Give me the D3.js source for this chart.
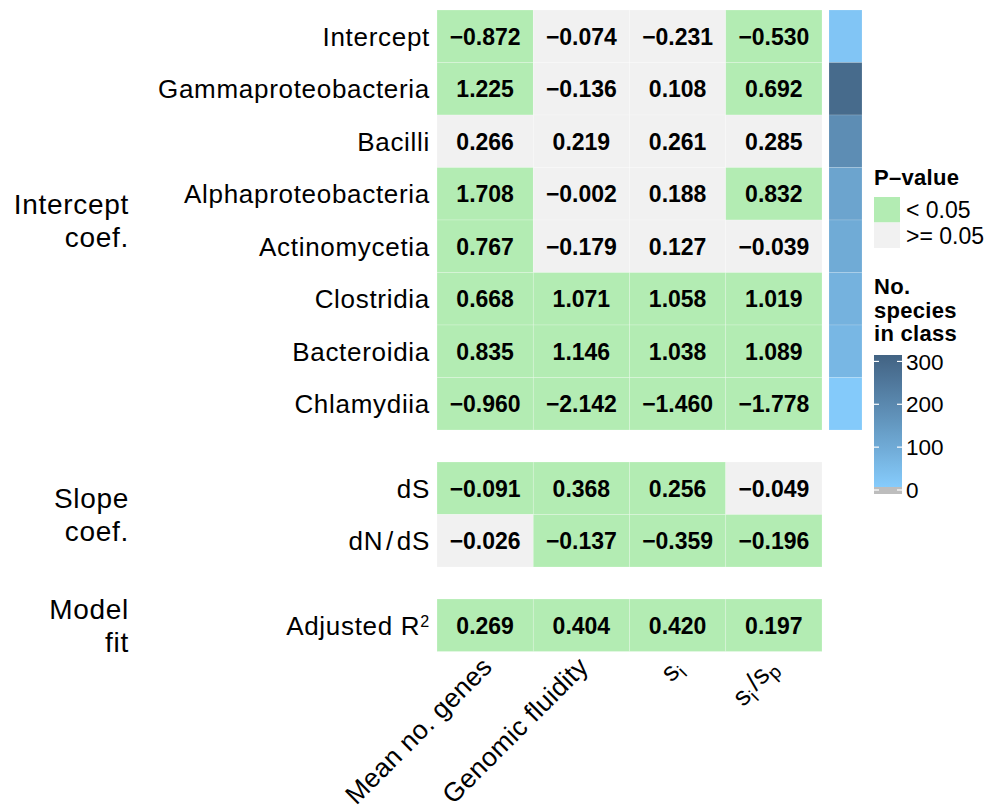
<!DOCTYPE html>
<html>
<head>
<meta charset="utf-8">
<script src="https://cdn.jsdelivr.net/npm/d3@7"></script>
<style>
  body { margin: 0; background: #fff; }
  text { font-family: "Liberation Sans", Arial, Helvetica, sans-serif; fill: #000; }
</style>
</head>
<body>
<svg id="chart" width="987" height="809"></svg>
<script>
// ---- data -------------------------------------------------------------
const responses = ["Mean no. genes", "Genomic fluidity", "s_i", "s_i/s_p"];

const interceptTerms = ["Intercept", "Gammaproteobacteria", "Bacilli", "Alphaproteobacteria",
                        "Actinomycetia", "Clostridia", "Bacteroidia", "Chlamydiia"];
const interceptCoef = [
  [-0.872, -0.074, -0.231, -0.530],
  [ 1.225, -0.136,  0.108,  0.692],
  [ 0.266,  0.219,  0.261,  0.285],
  [ 1.708, -0.002,  0.188,  0.832],
  [ 0.767, -0.179,  0.127, -0.039],
  [ 0.668,  1.071,  1.058,  1.019],
  [ 0.835,  1.146,  1.038,  1.089],
  [-0.960, -2.142, -1.460, -1.778]
];
const interceptSig = [
  [1, 0, 0, 1],
  [1, 0, 0, 1],
  [0, 0, 0, 0],
  [1, 0, 0, 1],
  [1, 0, 0, 0],
  [1, 1, 1, 1],
  [1, 1, 1, 1],
  [1, 1, 1, 1]
];

const slopeTerms = ["dS", "dN/dS"];
const slopeCoef = [
  [-0.091, 0.368, 0.256, -0.049],
  [-0.026, -0.137, -0.359, -0.196]
];
const slopeSig = [
  [1, 1, 1, 0],
  [0, 1, 1, 1]
];

const fitTerms = ["Adjusted R2"];
const fitValues = [[0.269, 0.404, 0.420, 0.197]];
const fitSig = [[1, 1, 1, 1]];

// number of species per class (side bar)
const speciesInClass = [25, 290, 185, 120, 100, 80, 65, 12];
const speciesTicks = [0, 100, 200, 300];
const speciesMax = 315;

const pLevels = ["< 0.05", ">= 0.05"];
const pColors = ["#b3ecb3", "#f1f1f1"];

const panels = [
  { label: ["Intercept", "coef."], terms: interceptTerms, values: interceptCoef, sig: interceptSig, top: 10 },
  { label: ["Slope", "coef."],     terms: slopeTerms,     values: slopeCoef,     sig: slopeSig,     top: 462 },
  { label: ["Model", "fit"],       terms: fitTerms,       values: fitValues,     sig: fitSig,       top: 599 }
];

// ---- layout -----------------------------------------------------------
const svg = d3.select("#chart");
const rowH = 52.5;
const x = d3.scaleBand().domain(responses).range([437, 822]);
const fmt = d3.format(".3f");
const speciesColor = d3.scaleLinear().domain([0, speciesMax])
  .range(["#87CEFF", "#426383"]).interpolate(d3.interpolateLab);

// row label with small markup for dN/dS and R^2
function rowLabel(sel, term) {
  if (term === "dN/dS") {
    sel.append("tspan").text("dN\u200A/\u200AdS");
  } else if (term === "Adjusted R2") {
    sel.append("tspan").text("Adjusted R");
    sel.append("tspan").attr("dy", "-0.5em").attr("font-size", "0.62em").text("2");
  } else {
    sel.append("tspan").text(term);
  }
}

// column label with subscripts
function colLabel(sel, name) {
  const sub = (ch) => {
    sel.append("tspan").attr("dy", "0.3em").attr("font-size", "0.72em").text(ch);
    sel.append("tspan").attr("dy", "-0.3em").text("\u200A");
  };
  if (name === "s_i") {
    sel.append("tspan").text("s"); sub("i");
  } else if (name === "s_i/s_p") {
    sel.append("tspan").text("s"); sub("i");
    sel.append("tspan").text("/s"); sub("p");
  } else {
    sel.append("tspan").text(name);
  }
}

panels.forEach((p) => {
  const y = d3.scaleBand().domain(p.terms).range([p.top, p.top + p.terms.length * rowH]);
  const g = svg.append("g");

  const cells = [];
  p.terms.forEach((t, i) => responses.forEach((r, j) => {
    cells.push({ term: t, resp: r, value: p.values[i][j], sig: p.sig[i][j] });
  }));

  g.selectAll("rect.cell").data(cells).join("rect")
    .attr("class", "cell")
    .attr("x", d => x(d.resp))
    .attr("y", d => y(d.term))
    .attr("width", x.bandwidth())
    .attr("height", y.bandwidth())
    .attr("fill", d => d.sig ? pColors[0] : pColors[1])
    .attr("stroke", "#ffffff").attr("stroke-opacity", 0.35).attr("stroke-width", 0.6);

  g.selectAll("text.val").data(cells).join("text")
    .attr("class", "val")
    .attr("x", d => x(d.resp) + x.bandwidth() / 2)
    .attr("y", d => y(d.term) + y.bandwidth() / 2)
    .attr("dy", "0.36em")
    .attr("text-anchor", "middle")
    .attr("font-weight", "bold")
    .attr("font-size", 23)
    .text(d => fmt(d.value));

  // row labels
  p.terms.forEach((t) => {
    const tx = g.append("text")
      .attr("x", 430)
      .attr("y", y(t) + y.bandwidth() / 2)
      .attr("dy", "0.36em")
      .attr("text-anchor", "end")
      .attr("font-size", 26)
      .attr("letter-spacing", 0.7);
    rowLabel(tx, t);
  });

  // panel strip label on the left
  const mid = p.top + p.terms.length * rowH / 2;
  const lh = 33;
  p.label.forEach((line, k) => {
    g.append("text")
      .attr("x", 129)
      .attr("y", mid + (k - (p.label.length - 1) / 2) * lh)
      .attr("dy", "0.36em")
      .attr("text-anchor", "end")
      .attr("font-size", 28)
      .attr("letter-spacing", 0.7)
      .text(line);
  });

  // side bar with class sizes (first panel only)
  if (p.terms === interceptTerms) {
    g.selectAll("rect.side").data(p.terms).join("rect")
      .attr("class", "side")
      .attr("x", 829).attr("width", 33)
      .attr("y", d => y(d)).attr("height", y.bandwidth())
      .attr("fill", (d, i) => speciesColor(speciesInClass[i]))
      .attr("stroke", "#ffffff").attr("stroke-opacity", 0.25).attr("stroke-width", 0.6);
  }
});

// ---- column labels (rotated 45°) ---------------------------------------
responses.forEach((r) => {
  const cx = x(r) + x.bandwidth() / 2;
  const t = svg.append("text")
    .attr("transform", `translate(${cx - 5},655) rotate(-45)`)
    .attr("text-anchor", "end")
    .attr("dy", "0.72em")
    .attr("font-size", 26.5)
    .attr("letter-spacing", 0.3);
  colLabel(t, r);
});

// ---- legend: P-value ---------------------------------------------------
const lg = svg.append("g");
lg.append("text").attr("x", 874).attr("y", 185)
  .attr("font-weight", "bold").attr("font-size", 22).attr("letter-spacing", 0.3)
  .text("P\u2013value");
pLevels.forEach((lv, i) => {
  lg.append("rect").attr("x", 874).attr("y", 197 + i * 25.5)
    .attr("width", 26).attr("height", 25.5).attr("fill", pColors[i]);
  lg.append("text").attr("x", 906).attr("y", 197 + i * 25.5 + 12.75)
    .attr("dy", "0.36em").attr("font-size", 23).text(lv);
});

// ---- legend: No. species in class --------------------------------------
["No.", "species", "in class"].forEach((line, i) => {
  lg.append("text").attr("x", 874).attr("y", 294 + i * 23.5)
    .attr("font-weight", "bold").attr("font-size", 22).attr("letter-spacing", 0.3)
    .text(line);
});

const cy = d3.scaleLinear().domain([0, speciesMax]).range([490, 355]);
const grad = svg.append("defs").append("linearGradient")
  .attr("id", "speciesGrad").attr("x1", 0).attr("y1", 1).attr("x2", 0).attr("y2", 0);
d3.range(0, 11).forEach((k) => {
  grad.append("stop").attr("offset", k / 10)
    .attr("stop-color", speciesColor(speciesMax * k / 10));
});
lg.append("rect").attr("x", 874).attr("y", cy(speciesMax))
  .attr("width", 28).attr("height", cy(0) - cy(speciesMax))
  .attr("fill", "url(#speciesGrad)");
lg.append("rect").attr("x", 874).attr("y", cy(0) - 3)
  .attr("width", 28).attr("height", 7).attr("fill", "#bdbdbd");

speciesTicks.forEach((v) => {
  const yy = cy(v);
  lg.append("line").attr("x1", 874).attr("x2", 879).attr("y1", yy).attr("y2", yy)
    .attr("stroke", "#fff").attr("stroke-width", 1.2);
  lg.append("line").attr("x1", 897).attr("x2", 902).attr("y1", yy).attr("y2", yy)
    .attr("stroke", "#fff").attr("stroke-width", 1.2);
  lg.append("text").attr("x", 906).attr("y", yy).attr("dy", "0.36em")
    .attr("font-size", 22.5).text(v);
});
</script>
</body>
</html>
